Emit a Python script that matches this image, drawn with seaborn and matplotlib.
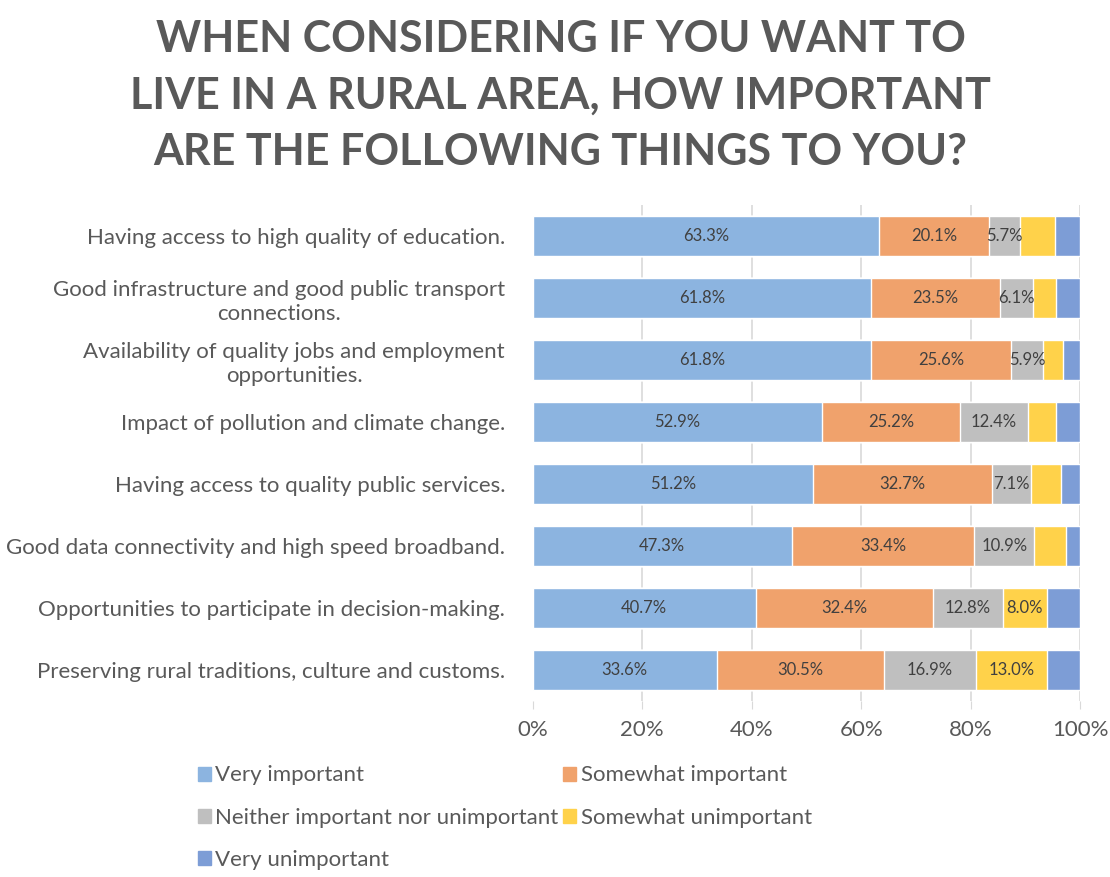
import numpy as np
import pandas as pd
import seaborn as sns
import matplotlib.pyplot as plt
from matplotlib.patches import Patch

questions = [
    "Having access to high quality of education.",
    "Good infrastructure and good public transport\nconnections.",
    "Availability of quality jobs and employment\nopportunities.",
    "Impact of pollution and climate change.",
    "Having access to quality public services.",
    "Good data connectivity and high speed broadband.",
    "Opportunities to participate in decision-making.",
    "Preserving rural traditions, culture and customs.",
]
series = ["Very important", "Somewhat important",
          "Neither important nor unimportant", "Somewhat unimportant",
          "Very unimportant"]
very_important = [63.3, 61.8, 61.8, 52.9, 51.2, 47.3, 40.7, 33.6]
somewhat_important = [20.1, 23.5, 25.6, 25.2, 32.7, 33.4, 32.4, 30.5]
neither = [5.7, 6.1, 5.9, 12.4, 7.1, 10.9, 12.8, 16.9]
somewhat_unimportant = [6.3, 4.3, 3.5, 5.2, 5.5, 5.9, 8.0, 13.0]
very_unimportant = [4.6, 4.3, 3.2, 4.3, 3.5, 2.5, 6.1, 6.0]

colors = ["#8cb4e0", "#f0a26c", "#bfbfbf", "#ffd24a", "#7d9dd6"]

sns.set_style("white")
plt.rcParams["font.family"] = ["Lato", "DejaVu Sans"]

df = pd.DataFrame({"question": questions})
vals = [very_important, somewhat_important, neither, somewhat_unimportant, very_unimportant]
for s, v in zip(series, vals):
    df[s] = v
cum = df[series].cumsum(axis=1)
cum["question"] = questions

fig = plt.figure(figsize=(11.1, 8.77), dpi=100)
ax = fig.add_axes([0.480, 0.201, 0.493, 0.565])

for x in [20, 40, 60, 80, 100]:
    ax.axvline(x, color="#d9d9d9", lw=1.2, zorder=0)

# stacked: draw cumulative totals from the back to the front
for i in range(len(series) - 1, -1, -1):
    sns.barplot(data=cum, x=series[i], y="question", color=colors[i],
                width=0.65, saturation=1, ax=ax, zorder=2)

# data labels
for i, s in enumerate(series):
    for j in range(len(questions)):
        v = df[s][j]
        if i == 4 or (i == 3 and v < 7):
            continue
        mid = cum[s][j] - v / 2
        ax.text(mid, j, f"{v:.1f}%", ha="center", va="center",
                fontsize=12, color="#404040", zorder=3)

ax.set_xlim(0, 100)
ax.set_ylim(7.5, -0.5)
ax.set_xticks([0, 20, 40, 60, 80, 100])
ax.set_xticklabels([f"{t}%" for t in [0, 20, 40, 60, 80, 100]], fontsize=16, color="#595959")
ax.tick_params(axis="x", length=6, color="#d9d9d9", pad=8, bottom=True)
ax.set_yticks(range(len(questions)))
ax.set_yticklabels(questions, fontsize=16, color="#595959", ha="right",
                   multialignment="center", linespacing=1.25)
ax.tick_params(axis="y", length=0, pad=20)
ax.set_xlabel("")
ax.set_ylabel("")
for sp in ax.spines.values():
    sp.set_visible(False)

order = [0, 2, 4, 1, 3]
handles = [Patch(color=colors[k]) for k in order]
labels = [series[k] for k in order]
fig.legend(handles, labels, ncol=2, loc="upper left", bbox_to_anchor=(0.16, 0.15),
           frameon=False, fontsize=16, labelcolor="#595959", handlelength=0.6,
           handleheight=0.6, handletextpad=0.2, columnspacing=0.2, labelspacing=1.0)

fig.text(0.505, 0.978, "WHEN CONSIDERING IF YOU WANT TO\nLIVE IN A RURAL AREA, HOW IMPORTANT\nARE THE FOLLOWING THINGS TO YOU?",
         ha="center", va="top", fontsize=31, fontweight="bold", color="#595959",
         linespacing=1.5, family=["Lato", "DejaVu Sans"])

fig.savefig("out.png", dpi=100)
